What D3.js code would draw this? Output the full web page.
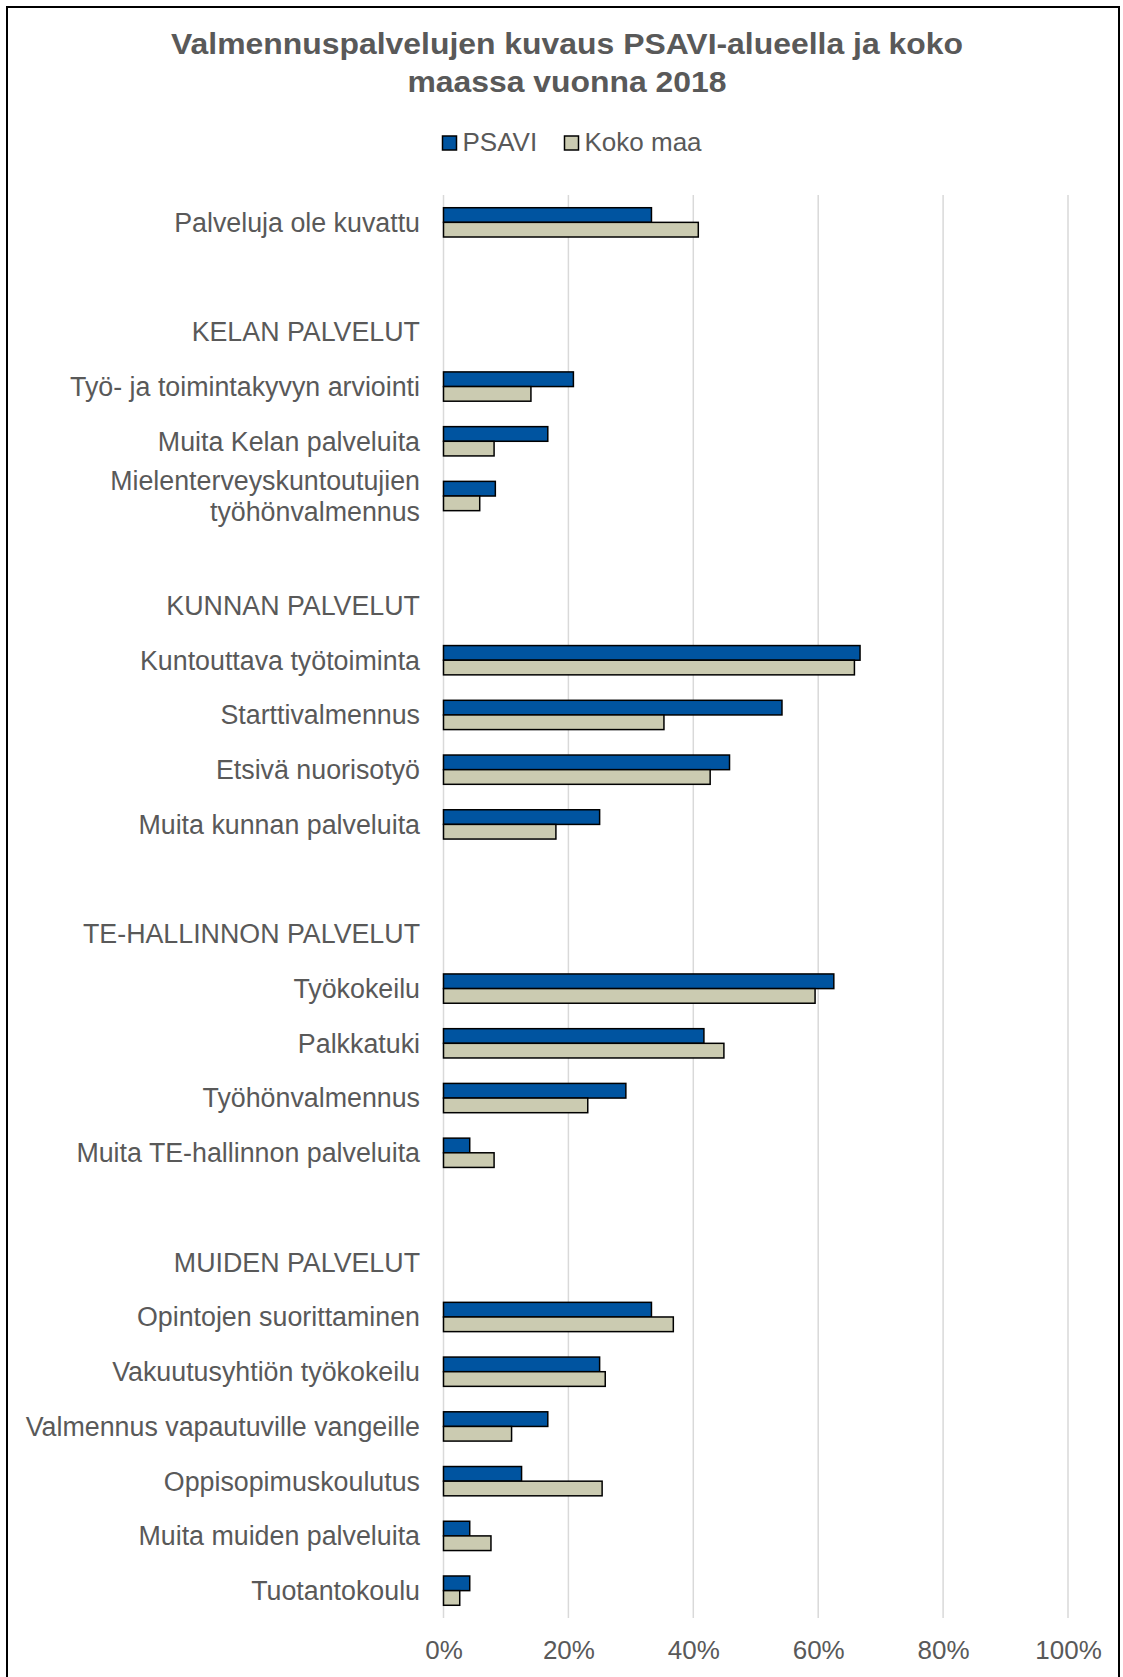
<!DOCTYPE html>
<html>
<head>
<meta charset="utf-8">
<script src="https://cdn.jsdelivr.net/npm/d3@7"></script>
<style>
  body { margin: 0; background: #fff; }
  svg { display: block; font-family: "Liberation Sans", Arial, sans-serif; }
</style>
</head>
<body>
<svg id="chart"></svg>
<script>
// categories top to bottom, "" = empty spacer row
var categories = [
  "Palveluja ole kuvattu", "", "KELAN PALVELUT",
  "Työ- ja toimintakyvyn arviointi", "Muita Kelan palveluita",
  "Mielenterveyskuntoutujien\ntyöhönvalmennus", "",
  "KUNNAN PALVELUT", "Kuntouttava työtoiminta", "Starttivalmennus",
  "Etsivä nuorisotyö", "Muita kunnan palveluita", "",
  "TE-HALLINNON PALVELUT", "Työkokeilu", "Palkkatuki", "Työhönvalmennus",
  "Muita TE-hallinnon palveluita", "",
  "MUIDEN PALVELUT", "Opintojen suorittaminen", "Vakuutusyhtiön työkokeilu",
  "Valmennus vapautuville vangeille", "Oppisopimuskoulutus",
  "Muita muiden palveluita", "Tuotantokoulu"
];
var psavi = [33.3, null, null, 20.8, 16.7, 8.3, null, null, 66.7, 54.2, 45.8, 25.0, null,
  null, 62.5, 41.7, 29.2, 4.2, null, null, 33.3, 25.0, 16.7, 12.5, 4.2, 4.2];
var kokoMaa = [40.8, null, null, 14.0, 8.1, 5.8, null, null, 65.8, 35.3, 42.7, 18.0, null,
  null, 59.5, 44.9, 23.1, 8.1, null, null, 36.8, 25.9, 10.9, 25.4, 7.6, 2.6];
var seriesNames = ["PSAVI", "Koko maa"];
var xTicks = [0, 20, 40, 60, 80, 100];

var colors = {"PSAVI": "#0054a0", "Koko maa": "#cbcbb1"};
var textCol = "#595959";
var W = 1123, H = 1677;
var plotL = 443.5, plotR = 1068, plotT = 195, plotB = 1618;

var svg = d3.select("#chart").attr("width", W).attr("height", H);

// outer frame
svg.append("rect").attr("x", 7).attr("y", 7).attr("width", 1112).attr("height", 1700)
  .attr("fill", "#fff").attr("stroke", "#000").attr("stroke-width", 2);

// title (slightly wide glyphs like the original)
var title = svg.append("g").attr("fill", textCol).attr("font-weight", "bold")
  .attr("font-size", 29).attr("text-anchor", "middle");
["Valmennuspalvelujen kuvaus PSAVI-alueella ja koko", "maassa vuonna 2018"].forEach(function(t, i) {
  var el = title.append("text").attr("x", 567).attr("y", 54 + i * 38).text(t);
  var len = el.node().getComputedTextLength();
  el.attr("textLength", len * 1.1).attr("lengthAdjust", "spacingAndGlyphs");
});

// legend
var legX = [442.5, 564.5];
seriesNames.forEach(function(s, i) {
  svg.append("rect").attr("x", legX[i]).attr("y", 136).attr("width", 14).attr("height", 14)
    .attr("fill", colors[s]).attr("stroke", "#000").attr("stroke-width", 1.5);
  svg.append("text").attr("x", legX[i] + 20).attr("y", 151).attr("font-size", 26)
    .attr("fill", textCol).text(s);
});

var x = d3.scaleLinear().domain([0, 100]).range([plotL, plotR]);
var y = d3.scaleBand().domain(d3.range(categories.length)).range([plotT, plotB])
  .paddingInner(0.465).paddingOuter(0.2325);
var ySub = d3.scaleBand().domain(seriesNames).range([0, y.bandwidth()]);

// gridlines
svg.append("g").selectAll("line").data(xTicks).enter().append("line")
  .attr("x1", function(d) { return x(d); }).attr("x2", function(d) { return x(d); })
  .attr("y1", plotT).attr("y2", plotB)
  .attr("stroke", "#d9d9d9").attr("stroke-width", 1.5);

// x axis labels
var xAxis = d3.axisBottom(x).tickValues(xTicks).tickSize(0).tickPadding(0)
  .tickFormat(function(d) { return d + "%"; });
var gx = svg.append("g").attr("transform", "translate(0," + (plotB + 20) + ")").call(xAxis);
gx.select(".domain").remove();
gx.selectAll("text").attr("font-size", 26).attr("fill", textCol)
  .attr("font-family", "Liberation Sans, Arial, sans-serif").attr("dy", "0.82em");

// bars
var rows = categories.map(function(c, i) { return {i: i, vals: [psavi[i], kokoMaa[i]]}; });
var g = svg.append("g");
rows.forEach(function(r) {
  r.vals.forEach(function(v, k) {
    if (v == null) return;
    var s = seriesNames[k];
    g.append("rect")
      .attr("x", x(0)).attr("y", y(r.i) + ySub(s))
      .attr("width", x(v) - x(0)).attr("height", ySub.bandwidth())
      .attr("fill", colors[s]).attr("stroke", "#000").attr("stroke-width", 1.5);
  });
});

// category labels
var labels = svg.append("g").attr("font-size", 26.8).attr("fill", textCol).attr("text-anchor", "end");
categories.forEach(function(c, i) {
  if (!c) return;
  var lines = c.split("\n");
  var cy = y(i) + y.bandwidth() / 2;
  var t = labels.append("text").attr("x", 420).attr("y", cy);
  lines.forEach(function(l, j) {
    t.append("tspan").attr("x", 420)
      .attr("y", cy + (j - (lines.length - 1) / 2) * 31.5)
      .attr("dy", "0.35em").text(l);
  });
});
</script>
</body>
</html>
